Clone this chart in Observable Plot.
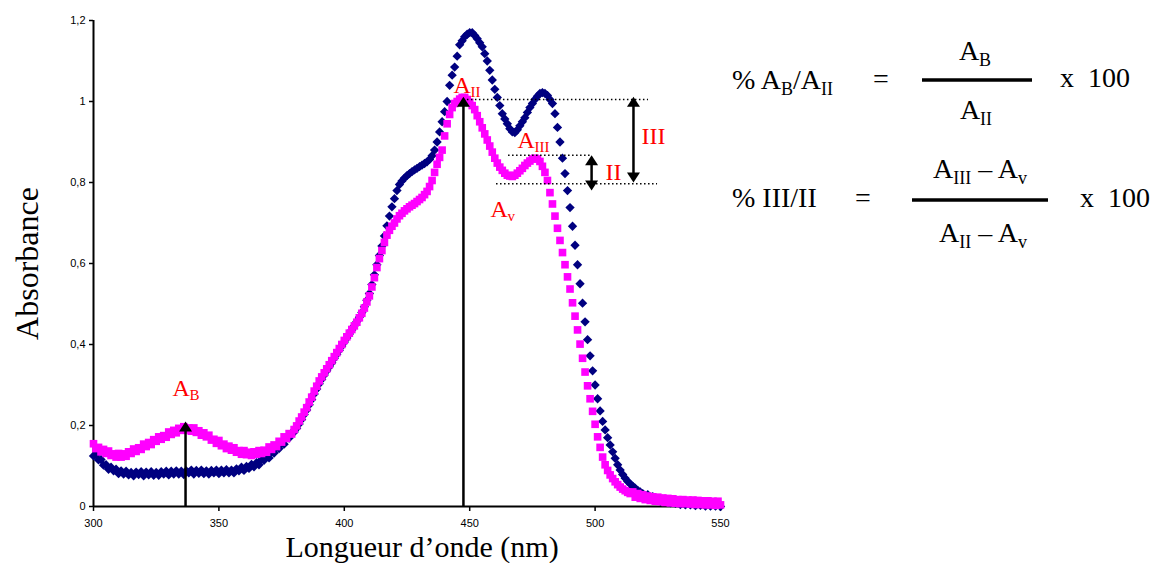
<!DOCTYPE html>
<html>
<head>
<meta charset="utf-8">
<script src="https://cdn.jsdelivr.net/npm/d3@7"></script>
<script src="https://cdn.jsdelivr.net/npm/@observablehq/plot@0.6"></script>
<style>
  html, body { margin: 0; padding: 0; background: #fff; }
  #chart svg { display: block; }
</style>
</head>
<body>
<div id="chart"></div>
<script>
// ---------- DATA ----------
const wavelengths = d3.range(300, 551); // nm, one reading per nm

// magenta spectrum (squares), 300..550 nm
const magentaAbs = [
  .155,.143,.146,.135,.141,.131,.137,.126,.130,.122,
  .131,.122,.130,.124,.135,.131,.142,.136,.145,.141,
  .154,.148,.158,.153,.165,.161,.172,.166,.175,.171,
  .184,.178,.188,.182,.193,.188,.197,.189,.194,.186,
  .194,.183,.187,.176,.182,.172,.176,.164,.166,.156,
  .163,.150,.154,.143,.149,.139,.145,.134,.138,.129,
  .138,.128,.134,.126,.135,.129,.138,.131,.139,.134,
  .147,.141,.152,.148,.161,.159,.172,.168,.180,.179,
  .190,.199,.211,.221,.233,.244,.258,.270,.285,.297,
  .310,.320,.330,.340,.350,.360,.370,.380,.390,.400,
  .410,.419,.428,.437,.446,.455,.466,.477,.490,.505,
  .520,.542,.565,.590,.612,.632,.652,.670,.682,.692,
  .700,.710,.718,.724,.730,.735,.740,.744,.748,.753,
  .758,.763,.770,.778,.790,.805,.825,.845,.862,.880,
  .915,.945,.968,.985,.995,1.000,1.006,1.010,1.010,1.005,
  .998,.990,.980,.965,.950,.935,.920,.905,.890,.875,
  .860,.848,.838,.830,.823,.818,.816,.815,.818,.823,
  .829,.835,.842,.848,.853,.858,.860,.858,.852,.840,
  .825,.805,.775,.747,.717,.687,.657,.627,.597,.567,
  .537,.503,.470,.436,.401,.366,.332,.298,.266,.235,
  .203,.172,.146,.122,.103,.089,.078,.069,.061,.054,
  .048,.043,.039,.035,.032,.036,.023,.032,.020,.029,
  .017,.026,.015,.024,.013,.023,.012,.021,.010,.020,
  .009,.019,.008,.017,.007,.017,.007,.016,.006,.016,
  .005,.015,.005,.014,.004,.014,.004,.013,.003,.013,
  .004
];

// navy spectrum (diamonds), 300..550 nm
const navyAbs = [
  .125,.128,.115,.116,.102,.103,.092,.097,.088,.092,
  .081,.088,.080,.087,.078,.084,.076,.085,.079,.086,
  .076,.085,.078,.086,.077,.084,.077,.086,.080,.087,
  .078,.087,.080,.088,.080,.087,.079,.088,.083,.090,
  .080,.089,.082,.090,.081,.088,.080,.089,.083,.090,
  .081,.090,.083,.091,.083,.090,.083,.093,.088,.097,
  .089,.099,.094,.104,.098,.108,.103,.116,.114,.125,
  .120,.134,.132,.146,.143,.156,.154,.169,.169,.182,
  .184,.193,.204,.215,.227,.238,.251,.264,.278,.290,
  .303,.314,.325,.335,.345,.355,.366,.376,.386,.396,
  .406,.416,.426,.436,.446,.457,.467,.479,.493,.509,
  .526,.548,.572,.597,.620,.643,.668,.693,.717,.740,
  .760,.780,.795,.804,.811,.817,.822,.827,.831,.835,
  .839,.843,.847,.851,.857,.866,.880,.900,.925,.950,
  .975,1.000,1.040,1.065,1.085,1.112,1.140,1.150,1.160,1.166,
  1.170,1.170,1.163,1.155,1.145,1.135,1.118,1.100,1.077,1.053,
  1.030,1.010,.990,.970,.957,.945,.933,.925,.923,.930,
  .940,.950,.960,.973,.985,.995,1.005,1.013,1.020,1.022,
  1.020,1.015,1.005,.995,.970,.936,.900,.860,.822,.780,
  .738,.692,.645,.597,.550,.502,.456,.412,.372,.335,
  .300,.266,.236,.210,.189,.170,.152,.135,.119,.103,
  .090,.079,.070,.062,.056,.050,.045,.040,.036,.032,
  .026,.029,.022,.024,.016,.019,.013,.018,.012,.016,
  .009,.014,.008,.012,.005,.010,.004,.010,.004,.009,
  .002,.008,.003,.007,.001,.006,.001,.006,.001,.006,
  .000
];

const xTicks = [300, 350, 400, 450, 500, 550];
const yTicks = [0, 0.2, 0.4, 0.6, 0.8, 1, 1.2];
const yTickLabels = ["0", "0,2", "0,4", "0,6", "0,8", "1", "1,2"];
const xTitle = "Longueur d\u2019onde (nm)";
const yTitle = "Absorbance";

// annotation values (data space)
const upArrows = [ { x: 336.7, base: 0, tip: 0.21 }, { x: 447.5, base: 0, tip: 1.012 } ];
const doubleArrows = [ { x: 515.3, low: 0.80, high: 1.012 }, { x: 498.6, low: 0.78, high: 0.867 } ];
const dottedLevels = [
  { y: 1.005, x1: 447.5, x2: 521.3 },
  { y: 0.867, x1: 465.5, x2: 498.2 },
  { y: 0.797, x1: 460.7, x2: 524.9 }
];
const peakLabels = [
  { x: 331.5, y: 0.274, base: "A", sub: "B" },
  { x: 443.5, y: 1.022, base: "A", sub: "II" },
  { x: 469.1, y: 0.884, base: "A", sub: "III" },
  { x: 458.3, y: 0.716, base: "A", sub: "v" }
];
const bandLabels = [ { x: 518.5, y: 0.896, text: "III" }, { x: 504.1, y: 0.807, text: "II" } ];

// ---------- CHART ----------
const magenta = wavelengths.map((w, i) => ({ w, a: magentaAbs[i] }));
const navy = wavelengths.map((w, i) => ({ w, a: navyAbs[i] }));

const headUp = { draw(ctx) { ctx.moveTo(0, 0); ctx.lineTo(6.5, 10); ctx.lineTo(-6.5, 10); ctx.closePath(); } };
const headDown = { draw(ctx) { ctx.moveTo(0, 0); ctx.lineTo(6.5, -10); ctx.lineTo(-6.5, -10); ctx.closePath(); } };

const serif = "'Liberation Serif', 'Times New Roman', serif";
const sans = "'Liberation Sans', Arial, sans-serif";
const red = "#FF0000";

const upTips = upArrows.map(d => ({ x: d.x, y: d.tip }));
const dblTop = doubleArrows.map(d => ({ x: d.x, y: d.high }));
const dblBot = doubleArrows.map(d => ({ x: d.x, y: d.low }));

const svg = Plot.plot({
  width: 1159,
  height: 563,
  marginLeft: 93,
  marginRight: 439,
  marginTop: 20,
  marginBottom: 57,
  style: { background: "#fff", color: "black", fontFamily: sans, fontSize: "11px" },
  x: { domain: [300, 550] },
  y: { domain: [0, 1.2] },
  marks: [
    Plot.axisX({ ticks: xTicks, tickSize: 5, tickPadding: 8, tickFormat: d => String(d), label: null, fontSize: 11, fontFamily: sans, strokeWidth: 1.5 }),
    Plot.axisY({ ticks: yTicks, tickSize: 4, tickPadding: 4, tickFormat: d => yTickLabels[yTicks.indexOf(d)], label: null, fontSize: 11, fontFamily: sans, strokeWidth: 1.5 }),
    Plot.ruleY([0], { stroke: "black", strokeWidth: 2 }),
    Plot.ruleX([300], { stroke: "black", strokeWidth: 2 }),
    Plot.dot(navy, { x: "w", y: "a", symbol: "diamond2", r: 4.2, fill: "#000080" }),
    Plot.dot(magenta, { x: "w", y: "a", symbol: "square", r: 4.3, fill: "#FF00FF" }),
    // dotted guide levels
    Plot.ruleY(dottedLevels, { y: "y", x1: "x1", x2: "x2", stroke: "black", strokeWidth: 1.5, strokeDasharray: "1.5,2.5" }),
    // arrows
    Plot.ruleX(upArrows, { x: "x", y1: "base", y2: d => d.tip - 0.02, stroke: "black", strokeWidth: 2.5 }),
    Plot.dot(upTips, { x: "x", y: "y", symbol: headUp, fill: "black" }),
    Plot.ruleX(doubleArrows, { x: "x", y1: d => d.low + 0.02, y2: d => d.high - 0.02, stroke: "black", strokeWidth: 2.5 }),
    Plot.dot(dblTop, { x: "x", y: "y", symbol: headUp, fill: "black" }),
    Plot.dot(dblBot, { x: "x", y: "y", symbol: headDown, fill: "black" }),
    // labels
    Plot.text(peakLabels, { x: "x", y: "y", text: "base", textAnchor: "start", lineAnchor: "bottom", fill: red, fontSize: 24, fontFamily: serif }),
    Plot.text(peakLabels, { x: "x", y: "y", text: "sub", textAnchor: "start", lineAnchor: "bottom", dx: 17, dy: 4, fill: red, fontSize: 15, fontFamily: serif }),
    Plot.text(bandLabels, { x: "x", y: "y", text: "text", textAnchor: "start", lineAnchor: "bottom", fill: red, fontSize: 24, fontFamily: serif }),
    // axis titles
    Plot.text([yTitle], { frameAnchor: "left", rotate: -90, dx: -56, textAnchor: "middle", lineAnchor: "bottom", fontSize: 32, fontFamily: serif, fill: "black" }),
    Plot.text([xTitle], { frameAnchor: "bottom", dx: 15, dy: 50, textAnchor: "middle", lineAnchor: "bottom", fontSize: 30, fontFamily: serif, fill: "black" })
  ]
});

// ---------- FORMULAS (right side) ----------
const g = d3.select(svg).append("g")
  .attr("font-family", serif).attr("font-size", 28).attr("fill", "black");

function formulaText(x, y, parts, anchor = "start") {
  const t = g.append("text").attr("x", x).attr("y", y).attr("text-anchor", anchor).attr("xml:space", "preserve");
  let shifted = false;
  for (const [s, sub] of parts) {
    const ts = t.append("tspan").text(s);
    if (sub && !shifted) { ts.attr("dy", 6).attr("font-size", 18); shifted = true; }
    else if (sub) { ts.attr("font-size", 18); }
    else if (!sub && shifted) { ts.attr("dy", -6); shifted = false; }
  }
}
function bar(x1, x2, y) {
  g.append("line").attr("x1", x1).attr("x2", x2).attr("y1", y).attr("y2", y)
    .attr("stroke", "black").attr("stroke-width", 3.5);
}

// row 1
formulaText(732, 89, [["% A"], ["B", 1], ["/A"], ["II", 1]]);
formulaText(873, 88, [["="]]);
bar(922, 1032, 80);
formulaText(975, 60, [["A"], ["B", 1]], "middle");
formulaText(976, 119, [["A"], ["II", 1]], "middle");
formulaText(1060, 87, [["x\u00a0\u00a0100"]]);

// row 2
formulaText(732, 207, [["% III/II"]]);
formulaText(855, 207, [["="]]);
bar(912, 1048, 200);
formulaText(980, 178, [["A"], ["III", 1], [" \u2013 A"], ["v", 1]], "middle");
formulaText(983, 242, [["A"], ["II", 1], [" \u2013 A"], ["v", 1]], "middle");
formulaText(1080, 207, [["x\u00a0\u00a0100"]]);

document.getElementById("chart").append(svg);
</script>
</body>
</html>
